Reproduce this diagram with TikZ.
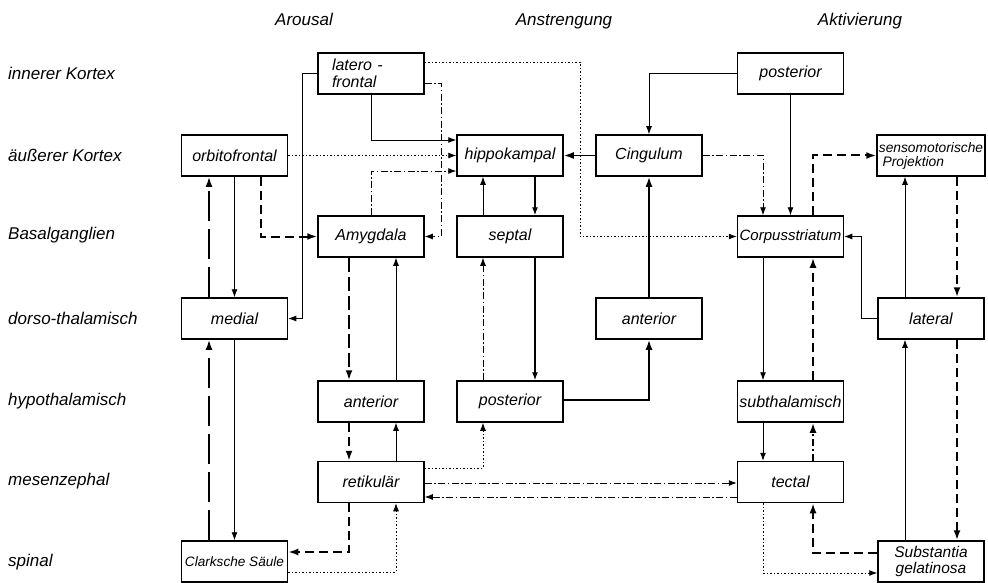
\documentclass[tikz,border=0pt]{standalone}
\usepackage{fontspec}
\setmainfont{Liberation Sans}
\usetikzlibrary{arrows.meta}
\newcommand\lblfont{\fontsize{17}{19}\selectfont\itshape}
\newcommand\bxfont{\fontsize{16}{17}\selectfont\itshape}
\tikzset{
 box/.style={draw, line width=1.5pt, minimum width=106pt, minimum height=41pt, inner sep=0pt, font=\bxfont, align=center},
 lbl/.style={anchor=west, font=\lblfont, inner sep=0pt},
 hdr/.style={font=\lblfont, inner sep=0pt},
 con/.style={line width=0.9pt, -{Latex[length=8pt,width=6pt]}},
 medl/.style={con, line width=1.3pt},
 boldl/.style={con, line width=1.9pt, -{Latex[length=10pt,width=7pt]}},
 dotl/.style={con, dash pattern=on 1.5pt off 2pt},
 dashdotl/.style={con, dash pattern=on 7pt off 2.5pt on 1.5pt off 2.5pt},
 thickdash/.style={con, line width=2pt, dash pattern=on 9pt off 5pt, -{Latex[length=10pt,width=7pt]}},
 longdash/.style={con, line width=2pt, dash pattern=on 30pt off 8pt, -{Latex[length=10pt,width=7pt]}},
}
\begin{document}
\begin{tikzpicture}[x=1pt,y=-1pt]
\useasboundingbox (0,0) rectangle (988,583);
% headers
\node[hdr] (hA) at (304,19) {Arousal};
\node[hdr] (hB) at (564,21) {Anstrengung};
\node[hdr] (hC) at (860,21) {Aktivierung};
% row labels
\node[lbl] (l1) at (8,73) {innerer Kortex};
\node[lbl] (l2) at (8,155) {äußerer Kortex};
\node[lbl] (l3) at (8,235) {Basalganglien};
\node[lbl] (l4) at (8,318) {dorso-thalamisch};
\node[lbl] (l5) at (8,401) {hypothalamisch};
\node[lbl] (l6) at (8,481) {mesenzephal};
\node[lbl] (l7) at (8,562) {spinal};
% boxes
\node[box, align=left, text width=78pt] (lateroF) at (371,73.5) {latero -\\frontal};
\node[box] (postT) at (790.5,73.5) {posterior};
\node[box] (orbito) at (234.5,155.5) {orbitofrontal};
\node[box] (hippo) at (510,155.5) {hippokampal};
\node[box] (cing) at (649,155.5) {Cingulum};
\node[box, minimum width=108pt, align=left, font=\fontsize{13.8}{15}\selectfont\itshape] (senso) at (931,155.5) {sensomotorische\\[-1pt]\ Projektion};
\node[box] (amyg) at (371,236.5) {Amygdala};
\node[box] (septal) at (510,236.5) {septal};
\node[box, font=\fontsize{15}{16}\selectfont\itshape] (corpus) at (790.5,236.5) {Corpusstriatum};
\node[box] (medial) at (234.5,318.5) {medial};
\node[box] (antD) at (649,318.5) {anterior};
\node[box] (lateral) at (931,318.5) {lateral};
\node[box] (antH) at (371,401.5) {anterior};
\node[box] (postH) at (510,401.5) {posterior};
\node[box, font=\fontsize{16}{17}\selectfont\itshape] (subth) at (790.5,401.5) {subthalamisch};
\node[box] (retik) at (371,482) {retikulär};
\node[box] (tectal) at (790.5,482) {tectal};
\node[box, font=\fontsize{13.6}{15}\selectfont\itshape] (clarke) at (234.5,561.5) {Clarksche Säule};
\node[box, font=\fontsize{15.5}{16}\selectfont\itshape] (subst) at (931,561.5) {Substantia\\gelatinosa};
% bend points
\coordinate (v302) at (302,318.5);
\coordinate (k441) at (441,236.5);
\coordinate (k580) at (580,236.5);
\coordinate (k861) at (861,236.5);
% connectors - Arousal
\draw[con] (lateroF.west) -| (v302) -- (medial.east);
\draw[dotl] (orbito.east) -- (hippo.west);
\draw[con] (lateroF.south) |- ([yshift=15.5pt]hippo.west);
\draw[dashdotl] ([yshift=-9.5pt]lateroF.east) -| (k441) -- (amyg.east);
\draw[dashdotl] (amyg.north) |- ([yshift=-15.5pt]hippo.west);
\draw[dotl] ([yshift=11.5pt]lateroF.east) -| (k580) -- (corpus.west);
\draw[con] (orbito.south) -- (medial.north);
\draw[thickdash] ([xshift=26.5pt]orbito.south) |- (amyg.west);
\draw[longdash] ([xshift=-25.5pt]medial.north) -- ([xshift=-25.5pt]orbito.south);
\draw[longdash] ([xshift=-25.5pt]clarke.north) -- ([xshift=-25.5pt]medial.south);
\draw[con] (medial.south) -- (clarke.north);
\draw[longdash, dash pattern=on 14pt off 5pt] ([xshift=-22pt]amyg.south) -- ([xshift=-22pt]antH.north);
\draw[con] ([xshift=25pt]antH.north) -- ([xshift=25pt]amyg.south);
\draw[thickdash] ([xshift=-22pt]antH.south) -- ([xshift=-22pt]retik.north);
\draw[con] ([xshift=25pt]retik.north) -- ([xshift=25pt]antH.south);
\draw[thickdash] ([xshift=-22pt]retik.south) |- ([yshift=9.5pt]clarke.east);
\draw[dotl] ([yshift=-10.5pt]clarke.east) -| ([xshift=25pt]retik.south);
\draw[dotl] ([yshift=14pt]retik.east) -| ([xshift=-27pt]postH.south);
\draw[dashdotl] ([yshift=-1pt]retik.east) -- ([yshift=-1pt]tectal.west);
\draw[dashdotl] ([yshift=-15pt]tectal.west) -- ([yshift=-15pt]retik.east);
% Anstrengung
\draw[boldl] (cing.west) -- (hippo.east);
\draw[con] ([xshift=-27pt]septal.north) -- ([xshift=-27pt]hippo.south);
\draw[medl] ([xshift=25pt]hippo.south) -- ([xshift=25pt]septal.north);
\draw[dashdotl] ([xshift=-27pt]postH.north) -- ([xshift=-27pt]septal.south);
\draw[medl] ([xshift=25pt]septal.south) -- ([xshift=25pt]postH.north);
\draw[boldl] ([yshift=1.5pt]postH.east) -| (antD.south);
\draw[boldl] (antD.north) -- (cing.south);
\draw[con] (postT.west) -| (cing.north);
% Aktivierung
\draw[con] (postT.south) -- (corpus.north);
\draw[dashdotl] (cing.east) -| ([xshift=-27.5pt]corpus.north);
\draw[thickdash] ([xshift=22.5pt]corpus.north) |- (senso.west);
\draw[con] ([xshift=-26pt]lateral.north) -- ([xshift=-26pt]senso.south);
\draw[thickdash] ([xshift=26pt]senso.south) -- ([xshift=26pt]lateral.north);
\draw[con] (lateral.west) -| (k861) -- (corpus.east);
\draw[con] ([xshift=-27.5pt]corpus.south) -- ([xshift=-27.5pt]subth.north);
\draw[thickdash] ([xshift=22.5pt]subth.north) -- ([xshift=22.5pt]corpus.south);
\draw[con] ([xshift=-27.5pt]subth.south) -- ([xshift=-27.5pt]tectal.north);
\draw[thickdash, dash pattern=on 7pt off 3pt on 2pt off 3pt] ([xshift=22.5pt]tectal.north) -- ([xshift=22.5pt]subth.south);
\draw[thickdash] ([yshift=8.5pt]subst.west) -| ([xshift=22.5pt]tectal.south);
\draw[dotl] ([xshift=-27.5pt]tectal.south) |- ([yshift=-11.5pt]subst.west);
\draw[con] ([xshift=-26pt]subst.north) -- ([xshift=-26pt]lateral.south);
\draw[thickdash] ([xshift=26pt]lateral.south) -- ([xshift=26pt]subst.north);
\end{tikzpicture}
\end{document}
